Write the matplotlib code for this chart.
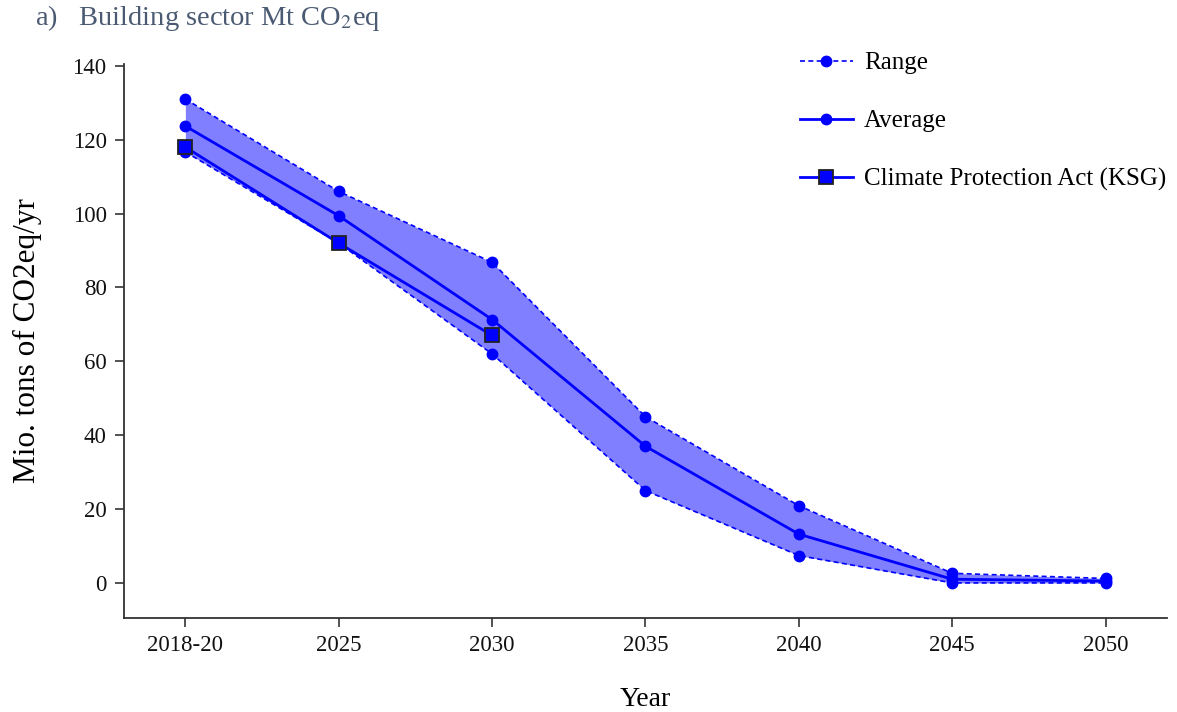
import matplotlib
matplotlib.use("Agg")
import matplotlib.pyplot as plt
import numpy as np

categories = ["2018-20", "2025", "2030", "2035", "2040", "2045", "2050"]
range_upper = [131.0, 106.0, 86.8, 45.0, 20.9, 2.6, 1.2]
range_lower = [116.7, 92.0, 62.0, 25.0, 7.4, 0.0, 0.0]
average = [123.7, 99.4, 71.3, 37.0, 13.2, 1.0, 0.5]
ksg_values = [118.0, 92.0, 67.0]
y_ticks = [0, 20, 40, 60, 80, 100, 120, 140]

plt.rcParams['font.family'] = ['Liberation Serif', 'DejaVu Serif']

fig = plt.figure(figsize=(11.77, 7.12), dpi=100)
ax = fig.add_axes([124/1177, 1-618/712, (1167-124)/1177, (618-64)/712])

x = np.arange(len(categories))
blue = "#0000ff"

ax.fill_between(x, range_lower, range_upper, color=blue, alpha=0.5, linewidth=0, zorder=1)
ax.plot(x, range_upper, linestyle=(0, (3, 2)), color=blue, lw=1.2, marker='o', ms=7.5, zorder=2, label="Range")
ax.plot(x, range_lower, linestyle=(0, (3, 2)), color=blue, lw=1.2, marker='o', ms=7.5, zorder=2)
ax.plot(x, average, linestyle='-', color=blue, lw=2.0, marker='o', ms=7.5, zorder=3, label="Average")
ax.plot(x[:len(ksg_values)], ksg_values, linestyle='-', color=blue, lw=2.0, marker='s', ms=9.5,
        markerfacecolor=blue, markeredgecolor='#222222', markeredgewidth=1.3, zorder=4,
        label="Climate Protection Act (KSG)")

ax.set_xlim(-0.4, 6.4)
ax.set_ylim(-9.5, 140.5)
ax.set_xticks(x)
ax.set_xticklabels(categories)
ax.set_yticks(y_ticks)

for s in ['top', 'right']:
    ax.spines[s].set_visible(False)
for s in ['left', 'bottom']:
    ax.spines[s].set_color('#333333')
    ax.spines[s].set_linewidth(1.3)
ax.tick_params(axis='both', which='major', labelsize=16.5, color='#333333', width=1.2, length=6.5, pad=6, labelcolor='#111111')

ax.set_xlabel("Year", fontsize=20, labelpad=22)
ax.set_ylabel("Mio. tons of CO2eq/yr", fontsize=22.5, labelpad=22)

fig.text(35/1177, 1-18/712, "a)   Building sector Mt CO$_2$eq", fontsize=20.5, color='#4a5a72', va='center', ha='left',
         math_fontfamily='stix')

leg = fig.legend(loc='upper left', bbox_to_anchor=(800/1177, 1-52/712), frameon=False, fontsize=18,
                 handlelength=2.1, handletextpad=0.45, labelspacing=1.42, borderpad=0, borderaxespad=0)

fig.savefig("out.png", dpi=100)
